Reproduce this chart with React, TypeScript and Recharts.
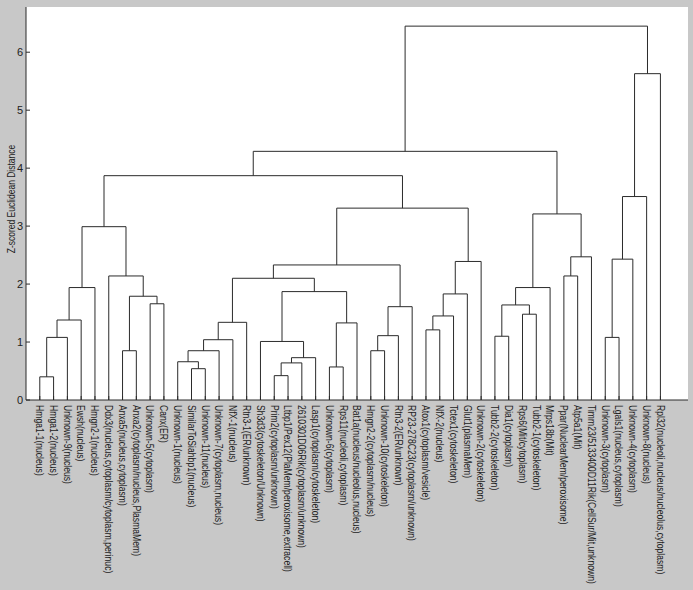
import React from 'react';
import { LineChart, Line, XAxis, YAxis, CartesianGrid, Label } from 'recharts';

// leaf labels in display order (left to right)
const leaves = [
  'Hmga1-1(nucleus)',
  'Hmga1-2(nucleus)',
  'Unknown-9(nucleus)',
  'Ewsh(nucleus)',
  'Hmgn2-1(nucleus)',
  'Ddx3(nucleus,cytoplasm/cytoplasm,perinuc)',
  'Anxa5(nucleus,cytoplasm)',
  'Anxa2(cytoplasm/nucleus,PlasmaMem)',
  'Unknown-5(cytoplasm)',
  'Canx(ER)',
  'Unknown-1(nucleus)',
  'SimilarToSiahbp1(nucleus)',
  'Unknown-11(nucleus)',
  'Unknown-7(cytoplasm,nucleus)',
  'NfX-1(nucleus)',
  'Rtn3-1(ER/unknown)',
  'Sh3d3(cytoskeleton/Unknown)',
  'Prim2(cytoplasm/unknown)',
  'Ltbp1/Pex12(PlaMem/peroxisome,extracell)',
  '2610301D06Rik(cytoplasm/unknown)',
  'Lasp1(cytoplasm/cytoskeleton)',
  'Unknown-6(cytoplasm)',
  'Rps11(nucleoli,cytoplasm)',
  'Bat1a(nucleus/nucleolus,nucleus)',
  'Hmgn2-2(cytoplasm/nucleus)',
  'Unknown-10(cytoskeleton)',
  'Rtn3-2(ER/unknown)',
  'RP23-278C23(cytoplasm/unknown)',
  'Atox1(cytoplasm/vesicle)',
  'NfX-2(nucleus)',
  'Tctex1(cytoskeleton)',
  'Glut1(plasmaMem)',
  'Unknown-2(cytoskeleton)',
  'Tubb2-2(cytoskeleton)',
  'Dia1(cytoplasm)',
  'Rps6(Mit/cytoplasm)',
  'Tubb2-1(cytoskeleton)',
  'Mrps18b(Mit)',
  'Ppar(NuclearMem/peroxisome)',
  'Atp5a1(Mit)',
  'Timm23/5133400D11Rik(CellSur/Mit,unknown)',
  'Unknown-3(cytoplasm)',
  'Lgals1(nucleus,cytoplasm)',
  'Unknown-4(cytoplasm)',
  'Unknown-8(nucleus)',
  'Rpl32(nucleoli,nucleus/nucleolus,cytoplasm)',
];

// linkage rows: ids 1..46 are leaves, row k creates node 46 + k
const mergeLeft = [1, 47, 48, 49, 7, 9, 51, 6, 50, 12, 11, 57, 58, 59, 18, 61, 62, 17, 22, 65, 64, 60, 25, 69, 70, 68, 29, 73, 74, 75, 72, 55, 34, 36, 79, 81, 39, 83, 82, 78, 42, 87, 88, 89, 86];
const mergeRight = [2, 3, 4, 5, 8, 10, 52, 53, 54, 13, 56, 14, 15, 16, 19, 20, 21, 63, 23, 24, 66, 67, 26, 27, 28, 71, 30, 31, 32, 33, 76, 77, 35, 37, 80, 38, 40, 41, 84, 85, 43, 44, 45, 46, 90];
const mergeHeight = [0.40, 1.08, 1.38, 1.94, 0.85, 1.66, 1.79, 2.14, 2.99, 0.54, 0.66, 0.85, 1.04, 1.34, 0.42, 0.64, 0.73, 1.01, 0.57, 1.33, 1.87, 2.10, 0.85, 1.11, 1.61, 2.33, 1.21, 1.45, 1.83, 2.39, 3.31, 3.87, 1.10, 1.48, 1.64, 1.94, 2.14, 2.47, 3.21, 4.29, 1.08, 2.43, 3.51, 5.63, 6.45];

const yTicks = [0, 1, 2, 3, 4, 5, 6];

const FONT = '"Liberation Sans", Arial, sans-serif';
const LINE = '#2b2b2b';

const n = leaves.length;
const nodeX: number[] = [];
const nodeY: number[] = [];
for (let i = 1; i <= n; i++) {
  nodeX[i] = i;
  nodeY[i] = 0;
}
const links = mergeLeft.map((a, k) => {
  const b = mergeRight[k];
  const h = mergeHeight[k];
  const id = n + 1 + k;
  nodeX[id] = (nodeX[a] + nodeX[b]) / 2;
  nodeY[id] = h;
  return [
    { x: nodeX[a], y: nodeY[a] },
    { x: nodeX[a], y: h },
    { x: nodeX[b], y: h },
    { x: nodeX[b], y: nodeY[b] },
  ];
});

// labels read top to bottom, squeezed a little like the original narrow font
const LeafTick = ({ x, y, payload }: any) => (
  <text
    x={0}
    y={0}
    dy="0.35em"
    transform={`translate(${x}, ${y}) rotate(90) scale(0.82, 1)`}
    textAnchor="start"
    fontSize={10.5}
    fontFamily={FONT}
    fill="#222"
  >
    {leaves[payload.value - 1]}
  </text>
);

export default function App() {
  return (
    <div style={{ position: 'absolute', left: 0, top: 0, width: 693, height: 590, background: '#c8c8c8' }}>
      <LineChart width={693} height={590} margin={{ top: 7, right: 5, left: 0, bottom: 10 }}>
        <CartesianGrid fill="#ffffff" horizontal={false} vertical={false} />
        <XAxis
          type="number"
          dataKey="x"
          domain={[0, 48]}
          ticks={leaves.map((_, i) => i + 1)}
          interval={0}
          height={180}
          tickSize={-4}
          tickMargin={9}
          tick={<LeafTick />}
          stroke={LINE}
          allowDataOverflow
        />
        <YAxis
          type="number"
          domain={[0, 6.78]}
          ticks={yTicks}
          width={26}
          tickSize={-4}
          tickMargin={7}
          stroke={LINE}
          tick={{ fontSize: 11, fontFamily: FONT, fill: '#222' }}
          allowDataOverflow
        >
          <Label
            content={() => (
              <text
                x={0}
                y={0}
                transform="translate(12, 199) rotate(-90) scale(0.85, 1)"
                textAnchor="middle"
                dominantBaseline="middle"
                fontSize={10}
                fontFamily={FONT}
                fill="#222"
              >
                Z-scored Euclidean Distance
              </text>
            )}
          />
        </YAxis>
        {links.map((pts, i) => (
          <Line
            key={i}
            data={pts}
            dataKey="y"
            type="linear"
            stroke={LINE}
            strokeWidth={1}
            dot={false}
            activeDot={false}
            isAnimationActive={false}
          />
        ))}
      </LineChart>
    </div>
  );
}
